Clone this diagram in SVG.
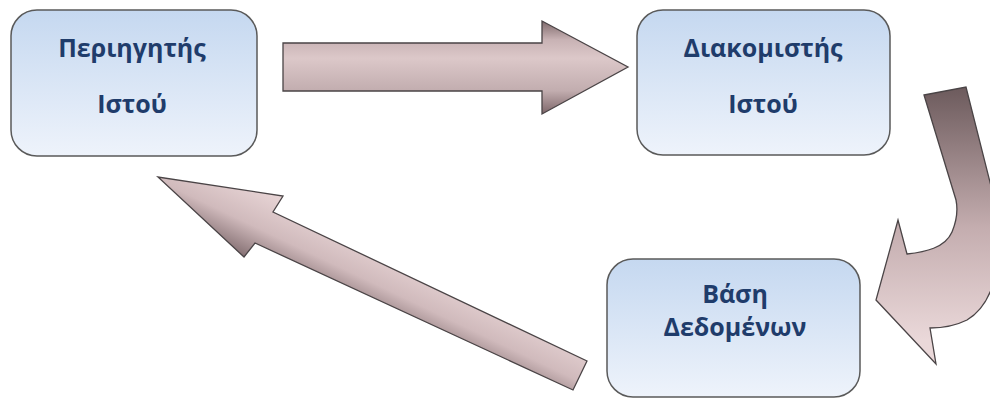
<svg xmlns="http://www.w3.org/2000/svg" width="990" height="403" viewBox="0 0 990 403">
<defs>
<linearGradient id="boxg" x1="0" y1="0" x2="0" y2="1">
<stop offset="0" stop-color="#c5d8f0"/>
<stop offset="1" stop-color="#eef3fb"/>
</linearGradient>
<linearGradient id="arrH" x1="0" y1="0" x2="0" y2="1">
<stop offset="0" stop-color="#7f6a6c"/>
<stop offset="0.2" stop-color="#c8b2b4"/>
<stop offset="0.4" stop-color="#dcc8c9"/>
<stop offset="0.75" stop-color="#c2adaf"/>
<stop offset="1" stop-color="#7d6669"/>
</linearGradient>
<linearGradient id="arrD" gradientUnits="userSpaceOnUse" x1="283" y1="196" x2="252" y2="261">
<stop offset="0" stop-color="#e8d5d6"/>
<stop offset="0.55" stop-color="#d0babc"/>
<stop offset="1" stop-color="#857073"/>
</linearGradient>
<linearGradient id="arrC" gradientUnits="userSpaceOnUse" x1="0" y1="90" x2="0" y2="340">
<stop offset="0" stop-color="#6e5c5e"/>
<stop offset="0.55" stop-color="#c4adaf"/>
<stop offset="1" stop-color="#ead8d9"/>
</linearGradient>
</defs>
<style>
.box{fill:url(#boxg);stroke:#5a5a5a;stroke-width:1.5}
.arrow{stroke:#4a4446;stroke-width:1.3;stroke-linejoin:miter}
.lbl{font-family:"Open Sans","Noto Sans","DejaVu Sans",sans-serif;font-weight:bold;font-size:25px;fill:#1f3c6b;text-anchor:middle}
</style>
<rect width="990" height="403" fill="#ffffff"/>
<g id="connectors">
<path class="arrow" fill="url(#arrH)" d="M283,43 L542,43 L542,21 L628,67 L542,114 L542,91 L283,91 Z"/>
<path class="arrow" fill="url(#arrC)" d="M924,95 L966,87 L992,190 C1005,245 1000,300 967,320 C955,326 942,328 930,328 L936,364 L876,300 L898,220 L907,254 C925,252 945,248 952,232 C957,220 958,210 956,200 Z"/>
<path class="arrow" fill="url(#arrD)" d="M587,361 L573,390 L255,243 L244,257 L158,177 L283,196 L273,212 Z"/>
</g>
<g id="node-browser">
<rect class="box" x="11" y="10" width="246" height="146" rx="26"/>
<text class="lbl" x="132" y="57">Περιηγητής</text>
<text class="lbl" x="132" y="113">Ιστού</text>
</g>
<g id="node-server">
<rect class="box" x="637" y="10" width="253" height="145" rx="26"/>
<text class="lbl" x="763" y="57">Διακομιστής</text>
<text class="lbl" x="763" y="113">Ιστού</text>
</g>
<g id="node-db">
<rect class="box" x="607" y="259" width="253" height="138" rx="26"/>
<text class="lbl" x="735" y="303">Βάση</text>
<text class="lbl" x="735" y="336">Δεδομένων</text>
</g>
</svg>
